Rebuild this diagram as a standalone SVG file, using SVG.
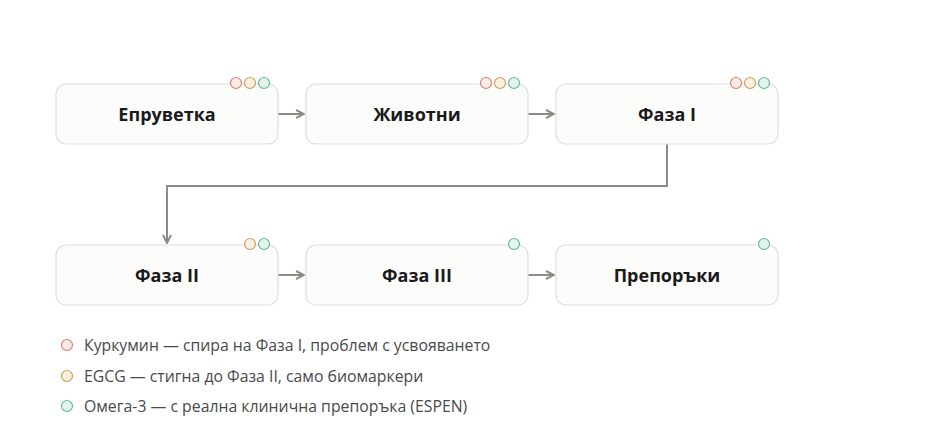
<svg xmlns="http://www.w3.org/2000/svg" width="945" height="445" viewBox="0 0 945 445">
<defs>
<style>
.node{fill:#fcfcfb;stroke:#dedede;stroke-width:1.2}
.lbl{font-family:"Open Sans","Noto Sans",sans-serif;font-weight:700;font-size:18px;fill:#1a1a1a;text-anchor:middle;dominant-baseline:central}
.leg{font-family:"Open Sans","Noto Sans",sans-serif;font-size:15.8px;fill:#4a4a4a;dominant-baseline:central}
.cr{fill:#fbebe7;stroke:#d28676;stroke-width:1.2}
.co{fill:#fbefde;stroke:#c9a067;stroke-width:1.2}
.cg{fill:#e2f4ed;stroke:#6cb79d;stroke-width:1.2}
.edge{fill:none;stroke:#8c8c87;stroke-width:2}
</style>
<marker id="arr" viewBox="0 0 10 10" refX="9" refY="5" markerWidth="10" markerHeight="10" markerUnits="userSpaceOnUse" orient="auto">
<path d="M1,1 L9,5 L1,9" fill="none" stroke="#8c8c87" stroke-width="2"/>
</marker>
</defs>
<rect width="945" height="445" fill="#ffffff"/>
<g id="connectors">
<path class="edge" d="M278,114 H304" marker-end="url(#arr)"/>
<path class="edge" d="M528,114 H554" marker-end="url(#arr)"/>
<path class="edge" d="M667,144 V186 H167 V243" marker-end="url(#arr)"/>
<path class="edge" d="M278,275 H304" marker-end="url(#arr)"/>
<path class="edge" d="M528,275 H554" marker-end="url(#arr)"/>
</g>
<g id="n1">
<rect class="node" x="56" y="84" width="222" height="60" rx="10"/>
<text class="lbl" x="167" y="114">Епруветка</text>
<circle class="cr" cx="236" cy="83" r="5.5"/><circle class="co" cx="250" cy="83" r="5.5"/><circle class="cg" cx="264" cy="83" r="5.5"/>
</g>
<g id="n2">
<rect class="node" x="306" y="84" width="222" height="60" rx="10"/>
<text class="lbl" x="417" y="114">Животни</text>
<circle class="cr" cx="486" cy="83" r="5.5"/><circle class="co" cx="500" cy="83" r="5.5"/><circle class="cg" cx="514" cy="83" r="5.5"/>
</g>
<g id="n3">
<rect class="node" x="556" y="84" width="222" height="60" rx="10"/>
<text class="lbl" x="667" y="114">Фаза I</text>
<circle class="cr" cx="736" cy="83" r="5.5"/><circle class="co" cx="750" cy="83" r="5.5"/><circle class="cg" cx="764" cy="83" r="5.5"/>
</g>
<g id="n4">
<rect class="node" x="56" y="245" width="222" height="60" rx="10"/>
<text class="lbl" x="167" y="275">Фаза II</text>
<circle class="co" cx="250" cy="244" r="5.5"/><circle class="cg" cx="264" cy="244" r="5.5"/>
</g>
<g id="n5">
<rect class="node" x="306" y="245" width="222" height="60" rx="10"/>
<text class="lbl" x="417" y="275">Фаза III</text>
<circle class="cg" cx="514" cy="244" r="5.5"/>
</g>
<g id="n6">
<rect class="node" x="556" y="245" width="222" height="60" rx="10"/>
<text class="lbl" x="667" y="275">Препоръки</text>
<circle class="cg" cx="764" cy="244" r="5.5"/>
</g>
<g id="legend">
<circle class="cr" cx="67" cy="345" r="5.5"/>
<text class="leg" x="84" y="345">Куркумин — спира на Фаза I, проблем с усвояването</text>
<circle class="co" cx="67" cy="376" r="5.5"/>
<text class="leg" x="84" y="376">EGCG — стигна до Фаза II, само биомаркери</text>
<circle class="cg" cx="67" cy="406" r="5.5"/>
<text class="leg" x="84" y="406">Омега-3 — с реална клинична препоръка (ESPEN)</text>
</g>
</svg>
